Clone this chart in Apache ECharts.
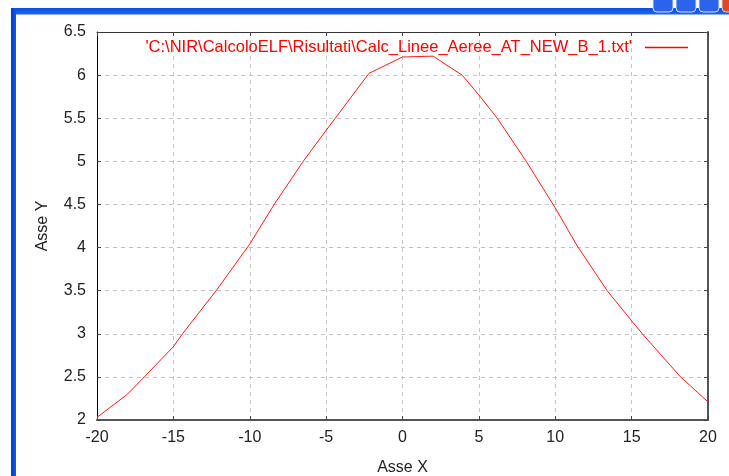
<!DOCTYPE html>
<html>
<head>
<meta charset="utf-8">
<script src="https://cdn.jsdelivr.net/npm/echarts@6/dist/echarts.min.js"></script>
<style>html,body{margin:0;padding:0;background:#fff;}#c{width:729px;height:476px;}</style>
</head>
<body>
<div id="c"></div>
<script>
var seriesName = "'C:\\NIR\\CalcoloELF\\Risultati\\Calc_Linee_Aeree_AT_NEW_B_1.txt'";
var xVals = [-20, -18, -16.9, -15, -14.4, -12.2, -10, -8.4, -6.5, -5, -4.4, -2.2, 0, 2, 3.9, 5, 6.2, 8.1, 10, 11.4, 13.4, 15, 15.7, 18.2, 20];
var yVals = [2.03, 2.30, 2.50, 2.85, 3.00, 3.50, 4.04, 4.50, 5.00, 5.36, 5.50, 6.02, 6.21, 6.22, 6.00, 5.77, 5.50, 5.00, 4.46, 4.03, 3.50, 3.15, 3.00, 2.50, 2.21];
var xAxisName = 'Asse X';
var yAxisName = 'Asse Y';

var pts = xVals.map(function (x, i) { return [x, yVals[i]]; });
var font = 'Liberation Sans, Arial, sans-serif';
var chart = echarts.init(document.getElementById('c'), null, {renderer: 'canvas'});
var gridLine = {show: true, lineStyle: {color: '#c4c4c4', type: [4, 4], width: 1}};
chart.setOption({
  animation: false,
  backgroundColor: '#ffffff',
  grid: {left: 97, right: 21, top: 32, bottom: 56, containLabel: false, outerBoundsMode: 'none'},
  legend: {
    right: 36, top: 34, align: 'right', icon: 'rect', itemWidth: 43, itemHeight: 1.5,
    textStyle: {color: '#ff0000', fontFamily: font, fontSize: 16.5, padding: [0, 8, 0, 0]},
    data: [{name: seriesName, itemStyle: {color: '#ff0000'}}]
  },
  xAxis: [{
    type: 'value', min: -20, max: 20, interval: 5, position: 'bottom',
    name: xAxisName, nameLocation: 'middle', nameGap: 40,
    nameTextStyle: {color: '#222', fontFamily: font, fontSize: 16},
    axisLine: {show: true, onZero: false, lineStyle: {color: '#555', width: 2}},
    axisTick: {show: true, inside: true, length: 4, lineStyle: {color: '#444'}},
    axisLabel: {color: '#222', fontFamily: font, fontSize: 16, margin: 10},
    splitLine: gridLine
  }, {
    type: 'value', min: -20, max: 20, interval: 5, position: 'top',
    axisLine: {show: true, onZero: false, lineStyle: {color: '#333', width: 1}},
    axisTick: {show: true, inside: true, length: 4, lineStyle: {color: '#444'}},
    axisLabel: {show: false}, splitLine: {show: false}
  }],
  yAxis: [{
    type: 'value', min: 2, max: 6.5, interval: 0.5, position: 'left',
    name: yAxisName, nameLocation: 'middle', nameGap: 46, nameRotate: 90,
    nameTextStyle: {color: '#222', fontFamily: font, fontSize: 16},
    axisLine: {show: true, onZero: false, lineStyle: {color: '#000', width: 1}},
    axisTick: {show: true, inside: true, length: 4, lineStyle: {color: '#444'}},
    axisLabel: {color: '#222', fontFamily: font, fontSize: 16, margin: 11},
    splitLine: gridLine
  }, {
    type: 'value', min: 2, max: 6.5, interval: 0.5, position: 'right',
    axisLine: {show: true, onZero: false, lineStyle: {color: '#555', width: 2}},
    axisTick: {show: true, inside: true, length: 4, lineStyle: {color: '#444'}},
    axisLabel: {show: false}, splitLine: {show: false}
  }],
  series: [{
    name: seriesName, type: 'line', data: pts, showSymbol: false, symbol: 'none',
    lineStyle: {color: '#ff1a1a', width: 1}, itemStyle: {color: '#ff0000'}, z: 5
  }],
  graphic: [
    {type: 'rect', shape: {x: 11, y: 8, width: 718, height: 6},
     style: {fill: new echarts.graphic.LinearGradient(0, 0, 0, 1, [{offset: 0, color: '#0a4ee0'}, {offset: 1, color: '#1e62ee'}])}, silent: true},
    {type: 'rect', shape: {x: 16, y: 14, width: 713, height: 1}, style: {fill: '#8fb0f0'}, silent: true},
    {type: 'rect', shape: {x: 11, y: 8, width: 5, height: 468},
     style: {fill: new echarts.graphic.LinearGradient(0, 0, 1, 0, [{offset: 0, color: '#0838d0'}, {offset: 1, color: '#1a55e6'}])}, silent: true},
    {type: 'rect', shape: {x: 653, y: -6, width: 20, height: 18, r: 4}, style: {fill: '#2a64ec', stroke: '#d8e4fa', lineWidth: 1}, silent: true},
    {type: 'rect', shape: {x: 676, y: -6, width: 20, height: 18, r: 4}, style: {fill: '#2a64ec', stroke: '#d8e4fa', lineWidth: 1}, silent: true},
    {type: 'rect', shape: {x: 699, y: -6, width: 20, height: 18, r: 4}, style: {fill: '#2a64ec', stroke: '#d8e4fa', lineWidth: 1}, silent: true},
    {type: 'rect', shape: {x: 722, y: -6, width: 14, height: 18, r: 4}, style: {fill: '#d84a2a', stroke: '#e8c8c0', lineWidth: 1}, silent: true}
  ]
});
</script>
</body>
</html>
